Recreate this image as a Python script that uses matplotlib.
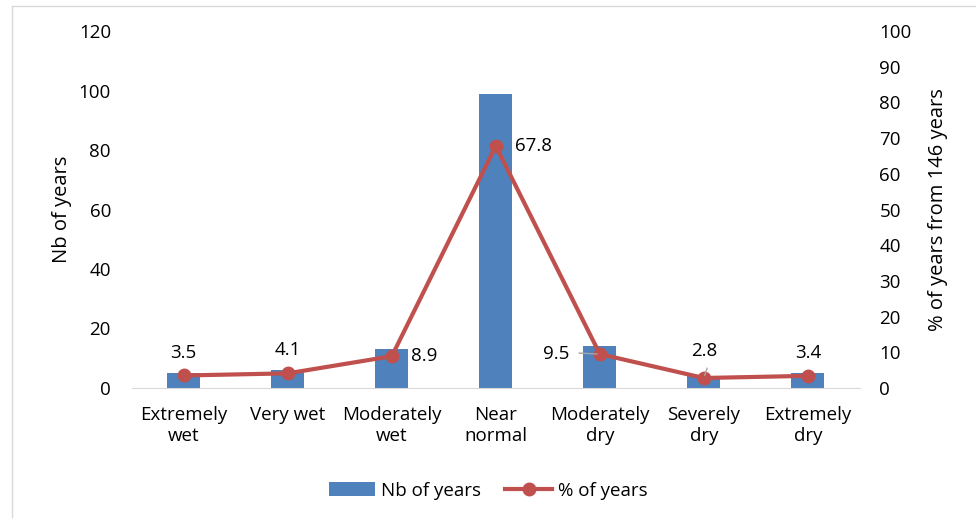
import matplotlib.pyplot as plt
from matplotlib.lines import Line2D
import numpy as np

# Classes de SPI e contagens
categorias = ["Extremely\nwet", "Very wet", "Moderately\nwet", "Near\nnormal",
              "Moderately\ndry", "Severely\ndry", "Extremely\ndry"]
nb_anos = [5, 6, 13, 99, 14, 4, 5]
pct_anos = [3.5, 4.1, 8.9, 67.8, 9.5, 2.8, 3.4]

azul = "#4f81bd"
vermelho = "#c0504d"

plt.rcParams["font.family"] = ["Open Sans", "DejaVu Sans"]

fig = plt.figure(figsize=(9.76, 5.18), dpi=100)
ax = fig.add_axes([0.135, 0.251, 0.746, 0.689])
ax2 = ax.twinx()

x = np.arange(len(categorias))
ax.bar(x, nb_anos, width=0.32, color=azul, zorder=2, label="Nb of years")
ax2.plot(x, pct_anos, color=vermelho, lw=3, marker="o", ms=9, zorder=3,
         label="% of years")

ax.set_xlim(-0.5, len(categorias) - 0.5)
ax.set_ylim(0, 120)
ax.set_yticks(range(0, 121, 20))
ax2.set_ylim(0, 100)
ax2.set_yticks(range(0, 101, 10))

ax.set_xticks(x)
ax.set_xticklabels(categorias, fontsize=13.5)
ax.tick_params(axis="x", length=0, pad=13)
ax.tick_params(axis="y", length=0, pad=15, labelsize=13.5)
ax2.tick_params(axis="y", length=0, pad=14, labelsize=13.5)

for a in (ax, ax2):
    for s in a.spines.values():
        s.set_visible(False)
ax.spines["bottom"].set_visible(True)
ax.spines["bottom"].set_color("#d9d9d9")

ax.set_ylabel("Nb of years", fontsize=14.5, labelpad=5)
ax2.set_ylabel("% of years from 146 years", fontsize=14.5, labelpad=12)

# Rótulos dos percentuais
offsets = [(0, 10, "center"), (0, 10, "center"), (14, 0, "left"), (14, 0, "left"),
           (-22, 0, "right"), (0, 13, "center"), (0, 10, "center")]
for i, (v, (dx, dy, ha)) in enumerate(zip(pct_anos, offsets)):
    ax2.annotate(f"{v}", (i, v), xytext=(dx, dy), textcoords="offset points",
                 ha=ha, va="center" if dy == 0 else "bottom", fontsize=13.5)

# linhas guia de 9.5 e 2.8
ax2.annotate("", (4, pct_anos[4]), xytext=(-17, 0.8), textcoords="offset points",
             arrowprops=dict(arrowstyle="-", color="#a6a6a6", lw=1))
ax2.annotate("", (5, pct_anos[5]), xytext=(3, 9), textcoords="offset points",
             arrowprops=dict(arrowstyle="-", color="#a6a6a6", lw=1))

h1, l1 = ax.get_legend_handles_labels()
h2, l2 = ax2.get_legend_handles_labels()
fig.legend(h1 + h2, l1 + l2, loc="center", bbox_to_anchor=(0.5, 0.053), ncol=2,
           frameon=False, fontsize=13.5, handlelength=2.5, columnspacing=1.3,
           handletextpad=0.3)

# moldura do gráfico
fig.add_artist(Line2D([0.012, 0.012], [0, 0.988], color="#d9d9d9", lw=1))
fig.add_artist(Line2D([0.012, 1], [0.988, 0.988], color="#d9d9d9", lw=1))

plt.savefig("out.png", dpi=100)
